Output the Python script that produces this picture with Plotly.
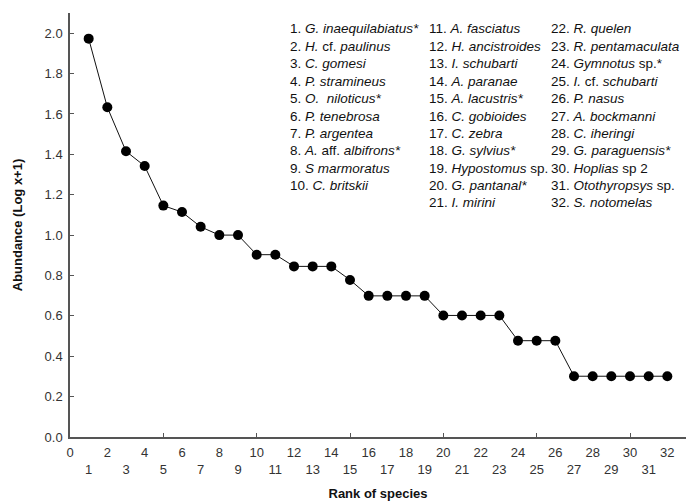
import plotly.graph_objects as go

rank = list(range(1, 33))
abundance = [1.973, 1.633, 1.415, 1.342, 1.146, 1.114, 1.041, 1.0, 1.0, 0.903,
             0.903, 0.845, 0.845, 0.845, 0.778, 0.699, 0.699, 0.699, 0.699, 0.602,
             0.602, 0.602, 0.602, 0.477, 0.477, 0.477, 0.301, 0.301, 0.301, 0.301,
             0.301, 0.301]

species = [
    "<i>G. inaequilabiatus*</i>", "<i>H.</i> cf. <i>paulinus</i>", "<i>C. gomesi</i>",
    "<i>P. stramineus</i>", "<i>O.  niloticus*</i>", "<i>P. tenebrosa</i>",
    "<i>P. argentea</i>", "<i>A.</i> aff. <i>albifrons*</i>", "<i>S marmoratus</i>",
    "<i>C. britskii</i>", "<i>A. fasciatus</i>", "<i>H. ancistroides</i>",
    "<i>I. schubarti</i>", "<i>A. paranae</i>", "<i>A. lacustris*</i>",
    "<i>C. gobioides</i>", "<i>C. zebra</i>", "<i>G. sylvius*</i>",
    "<i>Hypostomus</i> sp.", "<i>G. pantanal*</i>", "<i>I. mirini</i>",
    "<i>R. quelen</i>", "<i>R. pentamaculata</i>", "<i>Gymnotus</i> sp.*",
    "<i>I.</i> cf. <i>schubarti</i>", "<i>P. nasus</i>", "<i>A. bockmanni</i>",
    "<i>C. iheringi</i>", "<i>G. paraguensis*</i>", "<i>Hoplias</i> sp 2",
    "<i>Otothyropsys</i> sp.", "<i>S. notomelas</i>",
]

x_tick_vals = list(range(0, 33))
x_tick_text = [str(v) if v % 2 == 0 else " <br>" + str(v) for v in x_tick_vals]
y_tick_vals = [0.0, 0.2, 0.4, 0.6, 0.8, 1.0, 1.2, 1.4, 1.6, 1.8, 2.0]
y_tick_text = [f"{v:.1f}" for v in y_tick_vals]
minor_x_ticks = [5, 10, 15, 20, 25, 30]

FONT = "Arial, Liberation Sans, sans-serif"

fig = go.Figure()
fig.add_trace(go.Scatter(
    x=rank, y=abundance, mode="lines+markers",
    line=dict(color="#111111", width=1),
    marker=dict(color="black", size=10),
    showlegend=False, cliponaxis=False,
))
# invisible trace on overlay axis for 5-unit tick marks
fig.add_trace(go.Scatter(x=[0], y=[0], xaxis="x2", mode="markers",
                         marker=dict(opacity=0), showlegend=False, hoverinfo="skip"))

W, H = 694, 502
L, R, T, B = 70, 8, 13, 65
pw, ph = W - L - R, H - T - B

# species list as annotations
col_x = [288, 427, 549]
col_start = [0, 10, 21]
col_len = [10, 11, 11]
row0_y = 29
row_step = 17.4
ann = []
for c in range(3):
    for r in range(col_len[c]):
        i = col_start[c] + r
        py = row0_y + r * row_step
        ann.append(dict(
            x=(col_x[c] - L) / pw, y=(H - B - py) / ph, xref="paper", yref="paper",
            xanchor="left", yanchor="middle", showarrow=False,
            text=f"{i + 1}. {species[i]}",
            font=dict(family=FONT, size=13.5, color="#111111"),
        ))

fig.update_layout(
    width=W, height=H,
    margin=dict(l=L, r=R, t=T, b=B, autoexpand=False),
    paper_bgcolor="white", plot_bgcolor="white",
    font=dict(family=FONT, size=13, color="#333333"),
    annotations=ann,
    xaxis=dict(
        range=[0, 33], tickmode="array", tickvals=x_tick_vals, ticktext=x_tick_text,
        tickangle=0, ticks="", showgrid=False, zeroline=False, automargin=False,
        showline=True, linecolor="#555555", linewidth=1.5,
        ticklabelstandoff=3,
        tickfont=dict(size=13, color="#333333"),
        title=dict(text="<b>Rank of species</b>", font=dict(size=13, color="#111111"),
                   standoff=13),
    ),
    xaxis2=dict(
        range=[0, 33], overlaying="x", side="bottom", anchor="y",
        tickmode="array", tickvals=minor_x_ticks, ticks="inside", ticklen=4,
        tickcolor="#555555", showticklabels=False, showgrid=False, zeroline=False,
        showline=False, automargin=False,
    ),
    yaxis=dict(
        range=[0, 2.1], tickmode="array", tickvals=y_tick_vals, ticktext=y_tick_text,
        ticks="inside", ticklen=4, tickcolor="#555555", showgrid=False, zeroline=False,
        showline=True, linecolor="#555555", linewidth=1.5, automargin=False,
        ticklabelstandoff=3,
        tickfont=dict(size=13, color="#333333"),
        title=dict(text="<b>Abundance (Log x+1)</b>", font=dict(size=13, color="#111111"),
                   standoff=19),
    ),
)

fig.write_html("out.html", config={"displayModeBar": False},
               post_script="document.body.style.margin='0px';")
